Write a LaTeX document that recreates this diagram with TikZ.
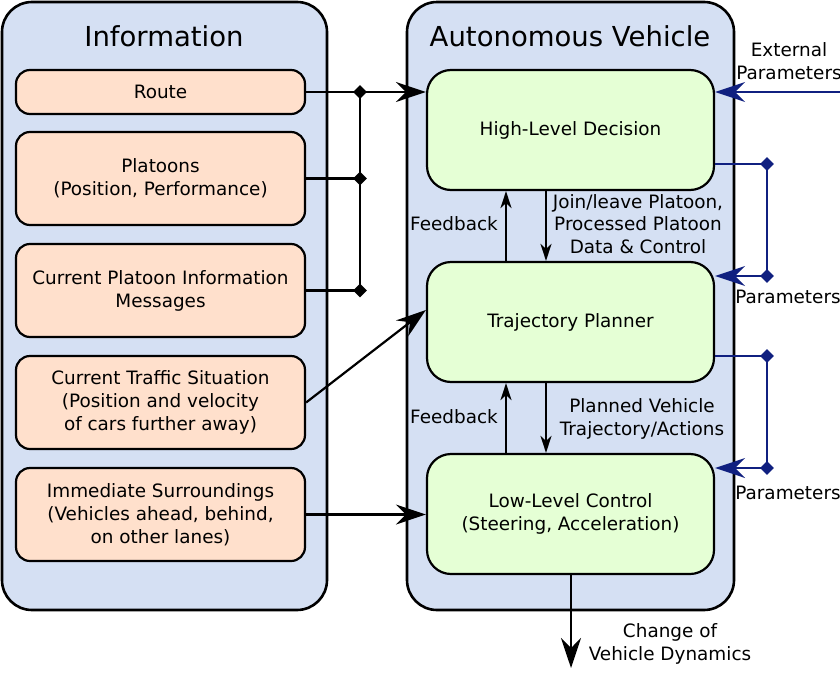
\documentclass[tikz,border=0pt]{standalone}
\usepackage{fontspec}
\setmainfont{DejaVu Sans}
\usetikzlibrary{arrows.meta,shapes.geometric}
\definecolor{panelc}{RGB}{213,224,243}
\definecolor{orangec}{RGB}{255,224,204}
\definecolor{greenc}{RGB}{229,255,213}
\definecolor{navyc}{RGB}{16,32,128}
\tikzset{
  panel/.style={draw=black,line width=2.6pt,fill=panelc,rounded corners=30pt},
  infobox/.style={draw=black,line width=2.2pt,fill=orangec,rounded corners=14pt,minimum width=289pt,align=center,font=\fontsize{18.4}{23}\selectfont},
  avbox/.style={draw=black,line width=2.2pt,fill=greenc,rounded corners=24pt,minimum width=287pt,minimum height=120pt,align=center,font=\fontsize{18.4}{23}\selectfont},
  title/.style={font=\fontsize{27.5}{32}\selectfont},
  lbl/.style={align=center,font=\fontsize{18.4}{22.5}\selectfont,inner sep=0pt},
  blk/.style={draw=black,line width=2.2pt},
  bigarr/.style={blk,-{Stealth[length=30pt,width=20pt,inset=10pt]}},
  smallarr/.style={blk,-{Stealth[length=17pt,width=11pt,inset=5pt]}},
  bl/.style={draw=navyc,line width=2pt},
  blarr/.style={bl,-{Stealth[length=30pt,width=20pt,inset=10pt]}},
  dia/.style={diamond,fill=black,inner sep=0pt,minimum size=14pt},
  bdia/.style={diamond,fill=navyc,inner sep=0pt,minimum size=14pt},
}
\begin{document}
\begin{tikzpicture}[x=1pt,y=-1pt]
\useasboundingbox[fill=white] (0,0) rectangle (840,672);
% panels
\draw[panel] (2,2) rectangle (327,610);
\draw[panel] (407,2) rectangle (734,610);
\node[title] (tinfo) at (164,36) {Information};
\node[title] (tav) at (570,36) {Autonomous Vehicle};
% info boxes
\node[infobox,minimum height=44pt] (route) at (160.5,92) {Route};
\node[infobox,minimum height=93pt] (plat) at (160.5,178.5) {Platoons\\(Position, Performance)};
\node[infobox,minimum height=93pt] (cpi) at (160.5,290.5) {Current Platoon Information\\Messages};
\node[infobox,minimum height=93pt] (traf) at (160.5,402.5) {Current Traffic Situation\\(Position and velocity\\of cars further away)};
\node[infobox,minimum height=93pt] (imm) at (160.5,514.5) {Immediate Surroundings\\(Vehicles ahead, behind,\\on other lanes)};
% AV boxes
\node[avbox] (hld) at (570.5,130) {High-Level Decision};
\node[avbox] (tp) at (570.5,322) {Trajectory Planner};
\node[avbox] (llc) at (570.5,514) {Low-Level Control\\(Steering, Acceleration)};
% coordinates
\coordinate (jx) at (360,0);
\coordinate (fbup) at (506,0);
\coordinate (fbdn) at (546,0);
\coordinate (outx) at (571,0);
\coordinate (bx) at (767,0);
\coordinate (extsrc) at (840,92);
\coordinate (outend) at (571,668);
% junctions
\node[dia] (j1) at (route.east -| jx) {};
\node[dia] (j2) at (plat.east -| jx) {};
\node[dia] (j3) at (cpi.east -| jx) {};
\draw[bigarr] (route.east) -- (route.east -| hld.west);
\draw[blk] (plat.east) -- (j2.center);
\draw[blk] (cpi.east) -- (j3.center);
\draw[blk] (j1.center) -- (j3.center);
\draw[bigarr] (traf.east) -- ([yshift=12pt]tp.west);
\draw[bigarr] (imm.east) -- (imm.east -| llc.west);
% feedback
\draw[smallarr] (tp.north -| fbup) -- (hld.south -| fbup);
\draw[smallarr] (hld.south -| fbdn) -- (tp.north -| fbdn);
\draw[smallarr] (llc.north -| fbup) -- (tp.south -| fbup);
\draw[smallarr] (tp.south -| fbdn) -- (llc.north -| fbdn);
\node[lbl,anchor=east] (fb1) at (498,224) {Feedback};
\node[lbl,anchor=east] (fb2) at (498,417) {Feedback};
\node[lbl] (jl) at (638,224) {Join/leave Platoon,\\Processed Platoon\\Data \& Control};
\node[lbl] (pv) at (642,419) {Planned Vehicle\\Trajectory/Actions};
% output
\draw[bigarr] (llc.south -| outx) -- (outend);
\node[lbl] (cvd) at (670,644) {Change of\\Vehicle Dynamics};
% parameters
\draw[blarr] (extsrc) -- ([yshift=38pt]hld.east);
\node[lbl] (ext) at (789,61) {External\\Parameters};
\node[bdia] (b1) at ([yshift=-34pt]hld.east -| bx) {};
\node[bdia] (b2) at ([yshift=46pt]tp.east -| bx) {};
\draw[bl] ([yshift=-34pt]hld.east) -- (b1.center) -- (b2.center);
\draw[blarr] (b2.center) -- ([yshift=46pt]tp.east);
\node[lbl] (p1) at (788,297) {Parameters};
\node[bdia] (b3) at ([yshift=-34pt]tp.east -| bx) {};
\node[bdia] (b4) at ([yshift=46pt]llc.east -| bx) {};
\draw[bl] ([yshift=-34pt]tp.east) -- (b3.center) -- (b4.center);
\draw[blarr] (b4.center) -- ([yshift=46pt]llc.east);
\node[lbl] (p2) at (788,493) {Parameters};
\end{tikzpicture}
\end{document}
